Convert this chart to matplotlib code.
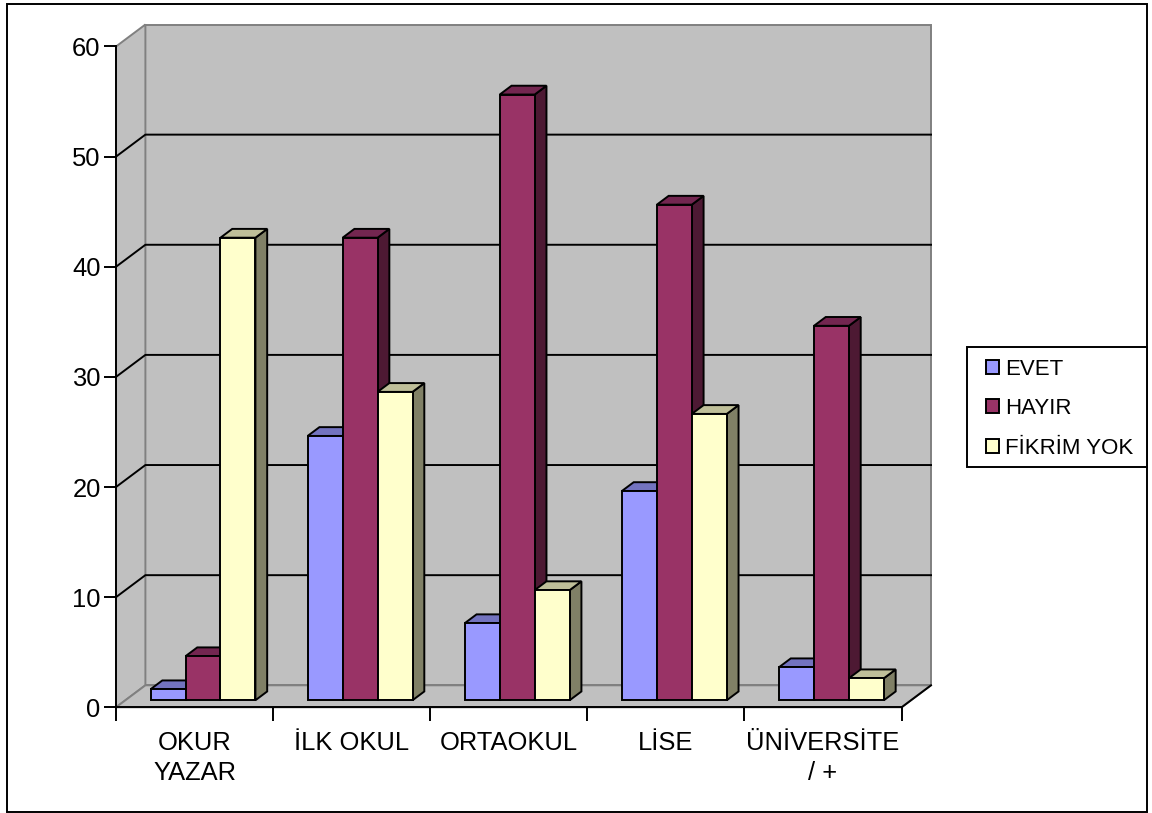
import matplotlib
matplotlib.use('Agg')
import matplotlib.pyplot as plt
from matplotlib.patches import Patch, Rectangle

WIDTH = 1152
HEIGHT = 813

CATEGORIES = ['OKUR\nYAZAR', 'İLK OKUL', 'ORTAOKUL', 'LİSE', 'ÜNİVERSİTE\n/ +']
SERIES_NAMES = ['EVET', 'HAYIR', 'FİKRİM YOK']
EVET = [1, 24, 7, 19, 3]
HAYIR = [4, 42, 55, 45, 34]
FIKRIM_YOK = [42, 28, 10, 26, 2]
Y_TICKS = [0, 10, 20, 30, 40, 50, 60]

# front, top, side
BLUE = ['#9999FF', '#7373BF', '#4D4D80']
PURPLE = ['#993366', '#732650', '#4D1933']
CREAM = ['#FFFFCC', '#BFBF99', '#808066']
WALL = '#C0C0C0'
WALL_EDGE = '#808080'
BLACK = '#000000'

# plot box in pixels, from the top left of the figure
LEFT, RIGHT, TOP, BOTTOM = 116.0, 901.6, 46.5, 707.3
# how far the back wall sits from the front plane, in data units
DEPTH_X = 29.4 / ((RIGHT - LEFT) / 5)
DEPTH_Y = 22.0 / ((BOTTOM - TOP) / 60)
# bars stand between these two depths
BAR_FRONT = 0.32
BAR_BACK = 0.72
BAR_WIDTH = 0.2225
BAR_GAP = 0.16

LINE = 1.4


def px_x(x):
    return x / WIDTH


def px_y(y):
    return 1 - y / HEIGHT


def project(x, y, depth):
    return x + depth * DEPTH_X, y + depth * DEPTH_Y


def poly(ax, corners, color, edge=BLACK, lw=LINE, zorder=3):
    xs, ys = zip(*[project(*c) for c in corners])
    ax.fill(xs, ys, facecolor=color, edgecolor=edge, linewidth=lw, zorder=zorder,
            clip_on=False, joinstyle='miter')


def draw_walls(ax):
    poly(ax, [(0, 0, 1), (5, 0, 1), (5, 60, 1), (0, 60, 1)], WALL, WALL_EDGE, zorder=1)
    poly(ax, [(0, 0, 0), (0, 0, 1), (0, 60, 1), (0, 60, 0)], WALL, WALL_EDGE, zorder=1)
    poly(ax, [(0, 0, 0), (5, 0, 0), (5, 0, 1), (0, 0, 1)], WALL, WALL_EDGE, zorder=1)
    # right edge of the floor is black, unlike the rest of it
    xs, ys = zip(project(5, 0, 0), project(5, 0, 1))
    ax.plot(xs, ys, color=BLACK, lw=LINE, zorder=1.5, clip_on=False)
    for tick in Y_TICKS[1:-1]:
        xs, ys = zip(project(0, tick, 0), project(0, tick, 1), project(5, tick, 1))
        ax.plot(xs, ys, color=BLACK, lw=LINE, zorder=2, clip_on=False)


def draw_bar(ax, x, value, colors):
    x2 = x + BAR_WIDTH
    f, b = BAR_FRONT, BAR_BACK
    poly(ax, [(x2, 0, f), (x2, 0, b), (x2, value, b), (x2, value, f)], colors[2])
    poly(ax, [(x, value, f), (x2, value, f), (x2, value, b), (x, value, b)], colors[1])
    poly(ax, [(x, 0, f), (x2, 0, f), (x2, value, f), (x, value, f)], colors[0])


fig = plt.figure(figsize=(WIDTH / 100, HEIGHT / 100), dpi=100, facecolor='white')
plt.rcParams['font.family'] = ['Liberation Sans', 'DejaVu Sans']

fig.add_artist(Rectangle((px_x(7), px_y(811.5)), px_x(1147 - 7), px_y(4.5) - px_y(811.5),
                         transform=fig.transFigure, fill=False, edgecolor=BLACK, linewidth=LINE))

ax = fig.add_axes([px_x(LEFT), px_y(BOTTOM), px_x(RIGHT - LEFT), px_y(TOP) - px_y(BOTTOM)])
ax.patch.set_visible(False)
ax.set_xlim(0, 5)
ax.set_ylim(0, 60)
for side in ['top', 'right']:
    ax.spines[side].set_visible(False)
for side in ['left', 'bottom']:
    ax.spines[side].set_linewidth(LINE)
    ax.spines[side].set_zorder(5)

draw_walls(ax)

for i in range(len(CATEGORIES)):
    x = i + BAR_GAP
    draw_bar(ax, x, EVET[i], BLUE)
    draw_bar(ax, x + BAR_WIDTH, HAYIR[i], PURPLE)
    draw_bar(ax, x + 2 * BAR_WIDTH, FIKRIM_YOK[i], CREAM)

ax.set_yticks(Y_TICKS)
ax.tick_params(axis='y', length=9, width=LINE, labelsize=18.4, pad=2)
ax.set_xticks(range(6))
ax.set_xticklabels([])
ax.tick_params(axis='x', which='major', length=10, width=LINE)
ax.set_xticks([i + 0.5 for i in range(5)], minor=True)
ax.set_xticklabels(CATEGORIES, minor=True, fontsize=18.4, linespacing=1.3)
ax.tick_params(axis='x', which='minor', length=0, pad=17)

# legend box is drawn on its own so its padding can differ per side
fig.add_artist(Rectangle((px_x(967), px_y(467)), px_x(1147 - 967), px_y(347) - px_y(467),
                         transform=fig.transFigure, facecolor='white', edgecolor=BLACK,
                         linewidth=LINE))
handles = [Patch(facecolor=c[0], edgecolor=BLACK, linewidth=LINE) for c in (BLUE, PURPLE, CREAM)]
fig.legend(handles, SERIES_NAMES, loc='upper left',
           bbox_to_anchor=(px_x(985.5), px_y(358.6)), bbox_transform=fig.transFigure,
           borderaxespad=0, borderpad=0, fontsize=16, frameon=False,
           handlelength=0.6, handleheight=0.6, handletextpad=0.27, labelspacing=0.84)

fig.savefig('out.png', dpi=100)
